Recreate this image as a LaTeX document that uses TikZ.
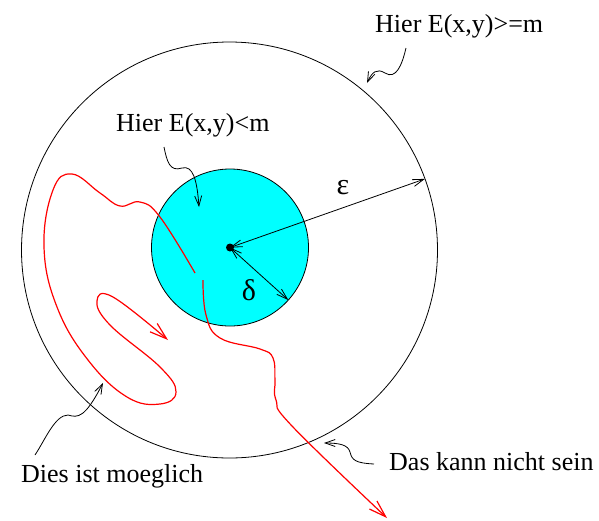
\documentclass[tikz,border=0pt]{standalone}
\usepackage{fontspec}
\setmainfont{Liberation Serif}
\usetikzlibrary{arrows.meta, positioning}
\definecolor{aqua}{RGB}{0,255,255}

\begin{document}
\begin{tikzpicture}[x=1pt, y=-1pt,
    txt/.style={inner sep=0pt, font=\fontsize{26}{31}\selectfont},
    squig/.style={line width=0.8pt, -{Straight Barb[length=10pt,width=7pt]}},
    radline/.style={line width=0.8pt, {Straight Barb[length=11pt,width=7pt]}-{Straight Barb[length=11pt,width=7pt]}},
    redpath/.style={red, line width=1.2pt, -{Straight Barb[length=17pt,width=11pt]}}]
        \useasboundingbox (0,0) rectangle (599,520);
        % the two regions
        \node[circle, draw, line width=0.8pt, outer sep=0pt, minimum size=416pt] (outer) at (229.5,250) {};
        \node[circle, draw, fill=aqua, line width=0.8pt, outer sep=0pt, minimum size=157pt] (inner) at (230,247.5) {};
        \coordinate (ctr) at (230,247.5);
        \fill (ctr) circle[radius=4];
        \draw[radline] (ctr) -- (outer.20.5);
        \draw[radline] (ctr) -- (inner.-42);
        \node[txt, font=\fontsize{30}{34}\selectfont] (eps) at (343,188) {ε};
        \node[txt, font=\fontsize{30}{34}\selectfont] (del) at (249,290) {δ};
        % labels
        \node[txt, anchor=base west] (outerlbl) at (375,32) {Hier E(x,y)>=m};
        \node[txt, anchor=base west] (innerlbl) at (116,131) {Hier E(x,y)<m};
        \node[txt, anchor=base west] (ok) at (21,482) {Dies ist moeglich};
        \node[txt, anchor=base west] (notok) at (389,470) {Das kann nicht sein};
        \draw[squig] ([shift={(31,16)}]outerlbl.base west) .. controls (402,65) and (396,80) .. (385,73) .. controls (377,68) and (372,72) .. (367,83);
        \draw[squig] ([shift={(48,16)}]innerlbl.base west) .. controls (167,162) and (170,172) .. (182,168) .. controls (193,165) and (197,180) .. (199,207);
        \draw[squig] ([shift={(14,-27)}]ok.base west) .. controls (45,440) and (55,415) .. (68,415) .. controls (78,418) and (85,418) .. (103,383);
        \draw[squig] ([shift={(-15,-6)}]notok.base west) .. controls (355,463) and (352,460) .. (350,452) .. controls (348,445) and (340,443) .. (324,443);
        % paths
        \draw[redpath] plot[smooth, tension=0.7] coordinates {(195,273) (160,217) (140,202) (120,206) (100,193) (72,174) (53,190) (44,247) (57,307) (88,360) (127,397) (160,404) (176,392) (160,367) (110,325) (97,301) (113,297) (168,340)};
        \draw[redpath] plot[smooth, tension=0.7] coordinates {(203,280) (206,315) (220,338) (260,349) (273,358) (275,380) (276,400) (292,426) (387,518)};
    \end{tikzpicture}
\end{document}
